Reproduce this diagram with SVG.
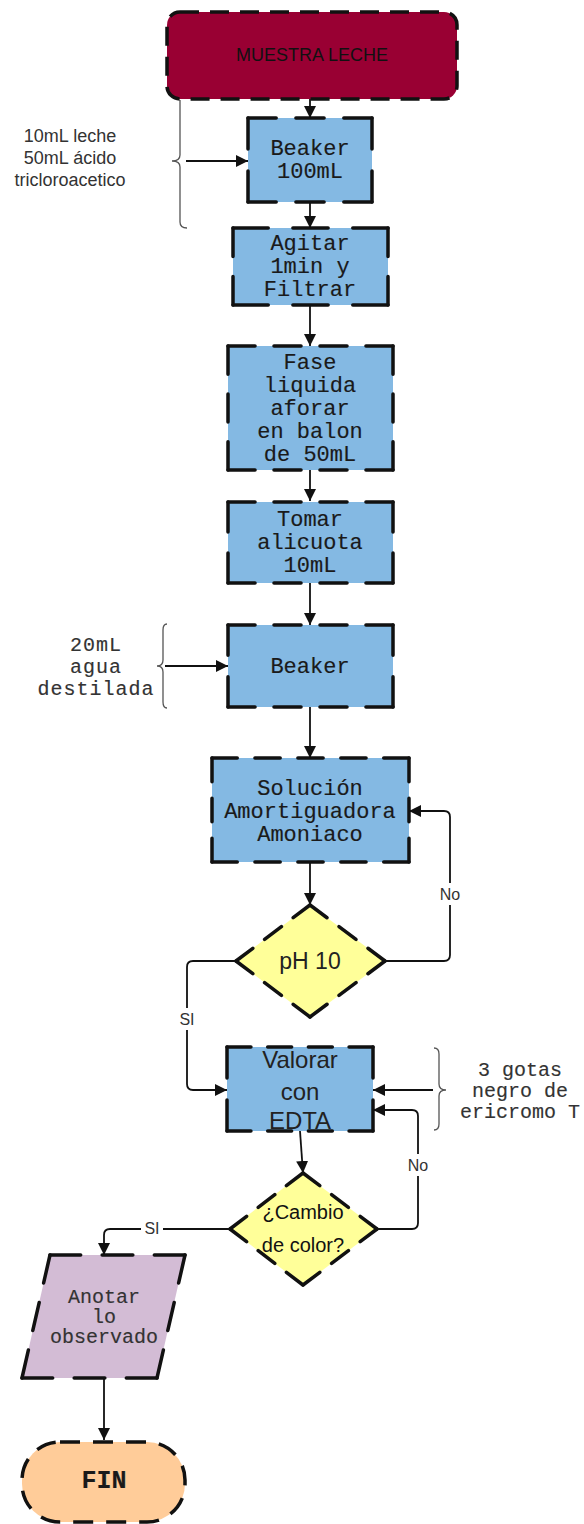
<svg xmlns="http://www.w3.org/2000/svg" width="584" height="1524" viewBox="0 0 584 1524">
<style>
.box{stroke:#111;stroke-width:3.5;stroke-linejoin:round}
.e{fill:none;stroke:#111;stroke-width:3.5;stroke-linecap:round;stroke-dasharray:1 0.7}
.blue{fill:#84B9E3}
.mono{font-family:"Liberation Mono","DejaVu Sans Mono",monospace;font-size:22px;fill:#1a1a1a;stroke:#1a1a1a;stroke-width:0.15;text-anchor:middle}
.sans{font-family:"Liberation Sans",Arial,sans-serif;fill:#222;text-anchor:middle}
.note{font-family:"Liberation Sans",Arial,sans-serif;font-size:18px;fill:#333;text-anchor:middle}
.lbl{font-family:"Liberation Sans",Arial,sans-serif;font-size:16px;fill:#333;text-anchor:middle}
.conn{fill:none;stroke:#111;stroke-width:1.8}
.brace{fill:none;stroke:#555;stroke-width:1.3}
</style>
<defs>
<marker id="arr" markerUnits="userSpaceOnUse" markerWidth="14" markerHeight="12" refX="12" refY="6" orient="auto">
<path d="M0,0 L12,6 L0,12 Z" fill="#111"/>
</marker>
</defs>
<rect width="584" height="1524" fill="#fff"/>

<g id="connectors">
<path class="conn" d="M310,99 V118" marker-end="url(#arr)"/>
<path class="conn" d="M186,161 H248" marker-end="url(#arr)"/>
<path class="conn" d="M310,202 V228" marker-end="url(#arr)"/>
<path class="conn" d="M310,305 V346" marker-end="url(#arr)"/>
<path class="conn" d="M310,470 V501" marker-end="url(#arr)"/>
<path class="conn" d="M310,583 V625" marker-end="url(#arr)"/>
<path class="conn" d="M165,666 H228" marker-end="url(#arr)"/>
<path class="conn" d="M310,707 V758" marker-end="url(#arr)"/>
<path class="conn" d="M310,862 V905" marker-end="url(#arr)"/>
<path class="conn" d="M385,961 H444 Q450,961 450,955 V817 Q450,811 444,811 H409" marker-end="url(#arr)"/>
<path class="conn" d="M236,961 H193 Q187,961 187,967 V1084 Q187,1090 193,1090 H227" marker-end="url(#arr)"/>
<path class="conn" d="M433,1090 H373" marker-end="url(#arr)"/>
<path class="conn" d="M300,1131 L303,1173" marker-end="url(#arr)"/>
<path class="conn" d="M377,1229 H412 Q418,1229 418,1223 V1116 Q418,1110 412,1110 H373" marker-end="url(#arr)"/>
<path class="conn" d="M230,1229 H110 Q104,1229 104,1235 V1255" marker-end="url(#arr)"/>
<path class="conn" d="M104,1378 V1440" marker-end="url(#arr)"/>
<rect x="437" y="883" width="26" height="22" fill="#fff"/>
<text class="lbl" x="450" y="900">No</text>
<rect x="176" y="1008" width="22" height="22" fill="#fff"/>
<text class="lbl" x="187" y="1025">SI</text>
<rect x="405" y="1154" width="26" height="22" fill="#fff"/>
<text class="lbl" x="418" y="1171">No</text>
<rect x="141" y="1218" width="22" height="20" fill="#fff"/>
<text class="lbl" x="152" y="1234">SI</text>
</g>

<g id="brace-10ml">
<path class="brace" d="M180,100 V155 Q180,161 172,161 Q180,161 180,167 V222 Q180,228 187,228"/>
<text class="note" x="70" y="142">10mL leche</text>
<text class="note" x="70" y="164">50mL ácido</text>
<text class="note" x="70" y="186">tricloroacetico</text>
</g>

<g id="brace-20ml">
<path class="brace" d="M167,624 Q163,624 163,630 V660 Q163,666 157,666 Q163,666 163,672 V702 Q163,708 167,708"/>
<text class="mono" x="96" y="651" style="font-size:20px;letter-spacing:1px;fill:#333;stroke:#333">20mL</text>
<text class="mono" x="96" y="673" style="font-size:20px;letter-spacing:1px;fill:#333;stroke:#333">agua</text>
<text class="mono" x="96" y="695" style="font-size:20px;letter-spacing:1px;fill:#333;stroke:#333">destilada</text>
</g>

<g id="brace-gotas">
<path class="brace" d="M434,1048 Q439,1048 439,1054 V1084 Q439,1090 446,1090 Q439,1090 439,1096 V1124 Q439,1130 434,1130"/>
<text class="mono" x="520" y="1076" style="font-size:20px;fill:#333;stroke:#333">3 gotas</text>
<text class="mono" x="520" y="1097" style="font-size:20px;fill:#333;stroke:#333">negro de</text>
<text class="mono" x="520" y="1118" style="font-size:20px;fill:#333;stroke:#333">ericromo T</text>
</g>

<g id="muestra">
<rect class="box" x="167" y="12" width="290" height="87" rx="13" fill="#990033" style="stroke-dasharray:19 11"/>
<text class="sans" x="312" y="61" style="font-size:18px;fill:#111">MUESTRA LECHE</text>
</g>

<g id="beaker100">
<rect class="blue" x="248" y="118" width="124" height="84" rx="5"/>
<path class="e" pathLength="4.4" d="M248,118 H372"/>
<path class="e" pathLength="4.4" d="M248,202 H372"/>
<path class="e" pathLength="2.7" d="M248,118 V202"/>
<path class="e" pathLength="2.7" d="M372,118 V202"/>
<text class="mono" x="310" y="155">Beaker</text>
<text class="mono" x="310" y="178">100mL</text>
</g>

<g id="agitar">
<rect class="blue" x="233" y="228" width="155" height="77" rx="5"/>
<path class="e" pathLength="4.4" d="M233,228 H388"/>
<path class="e" pathLength="4.4" d="M233,305 H388"/>
<path class="e" pathLength="2.7" d="M233,228 V305"/>
<path class="e" pathLength="2.7" d="M388,228 V305"/>
<text class="mono" x="310" y="250">Agitar</text>
<text class="mono" x="310" y="273">1min y</text>
<text class="mono" x="310" y="296">Filtrar</text>
</g>

<g id="fase">
<rect class="blue" x="228" y="346" width="165" height="124" rx="5"/>
<path class="e" pathLength="6.1" d="M228,346 H393"/>
<path class="e" pathLength="6.1" d="M228,470 H393"/>
<path class="e" pathLength="4.4" d="M228,346 V470"/>
<path class="e" pathLength="4.4" d="M393,346 V470"/>
<text class="mono" x="310" y="369">Fase</text>
<text class="mono" x="310" y="392">liquida</text>
<text class="mono" x="310" y="415">aforar</text>
<text class="mono" x="310" y="438">en balon</text>
<text class="mono" x="310" y="461">de 50mL</text>
</g>

<g id="tomar">
<rect class="blue" x="228" y="502" width="165" height="81" rx="5"/>
<path class="e" pathLength="6.1" d="M228,502 H393"/>
<path class="e" pathLength="6.1" d="M228,583 H393"/>
<path class="e" pathLength="2.7" d="M228,502 V583"/>
<path class="e" pathLength="2.7" d="M393,502 V583"/>
<text class="mono" x="310" y="526">Tomar</text>
<text class="mono" x="310" y="549">alicuota</text>
<text class="mono" x="310" y="572">10mL</text>
</g>

<g id="beaker">
<rect class="blue" x="228" y="625" width="165" height="82" rx="5"/>
<path class="e" pathLength="6.1" d="M228,625 H393"/>
<path class="e" pathLength="6.1" d="M228,707 H393"/>
<path class="e" pathLength="2.7" d="M228,625 V707"/>
<path class="e" pathLength="2.7" d="M393,625 V707"/>
<text class="mono" x="310" y="673">Beaker</text>
</g>

<g id="solucion">
<rect class="blue" x="212" y="758" width="197" height="104" rx="5"/>
<path class="e" pathLength="7.8" d="M212,758 H409"/>
<path class="e" pathLength="7.8" d="M212,862 H409"/>
<path class="e" pathLength="4.4" d="M212,758 V862"/>
<path class="e" pathLength="4.4" d="M409,758 V862"/>
<text class="mono" x="310" y="795">Solución</text>
<text class="mono" x="310" y="818">Amortiguadora</text>
<text class="mono" x="310" y="841">Amoniaco</text>
</g>

<g id="ph10">
<polygon points="310,905 385,961 310,1017 236,961" fill="#FFFF99"/>
<path class="e" pathLength="4.4" d="M310,905 L385,961"/>
<path class="e" pathLength="4.4" d="M385,961 L310,1017"/>
<path class="e" pathLength="4.4" d="M310,1017 L236,961"/>
<path class="e" pathLength="4.4" d="M236,961 L310,905"/>
<text class="sans" x="310" y="969" style="font-size:23px">pH 10</text>
</g>

<g id="valorar">
<rect class="blue" x="227" y="1047" width="146" height="84" rx="5"/>
<path class="e" pathLength="6.1" d="M227,1047 H373"/>
<path class="e" pathLength="6.1" d="M227,1131 H373"/>
<path class="e" pathLength="2.7" d="M227,1047 V1131"/>
<path class="e" pathLength="2.7" d="M373,1047 V1131"/>
<text class="sans" x="300" y="1068" style="font-size:24px">Valorar</text>
<text class="sans" x="300" y="1100" style="font-size:24px">con</text>
<text class="sans" x="300" y="1129" style="font-size:24px">EDTA</text>
</g>

<g id="cambio">
<polygon points="303,1173 377,1229 303,1285 230,1229" fill="#FFFF99"/>
<path class="e" pathLength="4.4" d="M303,1173 L377,1229"/>
<path class="e" pathLength="4.4" d="M377,1229 L303,1285"/>
<path class="e" pathLength="4.4" d="M303,1285 L230,1229"/>
<path class="e" pathLength="4.4" d="M230,1229 L303,1173"/>
<text class="sans" x="303" y="1219" style="font-size:20px;fill:#111">¿Cambio</text>
<text class="sans" x="303" y="1252" style="font-size:20px;fill:#111">de color?</text>
</g>

<g id="anotar">
<polygon points="50,1255 185,1255 157,1378 22,1378" fill="#D3BCD5"/>
<path class="e" pathLength="4.4" d="M50,1255 L185,1255"/>
<path class="e" pathLength="4.4" d="M185,1255 L157,1378"/>
<path class="e" pathLength="4.4" d="M157,1378 L22,1378"/>
<path class="e" pathLength="4.4" d="M22,1378 L50,1255"/>
<text class="mono" x="104" y="1303" style="font-size:20px;fill:#333;stroke:#333">Anotar</text>
<text class="mono" x="104" y="1323" style="font-size:20px;fill:#333;stroke:#333">lo</text>
<text class="mono" x="104" y="1343" style="font-size:20px;fill:#333;stroke:#333">observado</text>
</g>

<g id="fin">
<rect class="box" x="22" y="1442" width="163" height="80" rx="38" fill="#FFCC99" style="stroke-dasharray:20 13"/>
<text class="mono" x="104" y="1488" style="font-size:25px;font-weight:bold">FIN</text>
</g>
</svg>
